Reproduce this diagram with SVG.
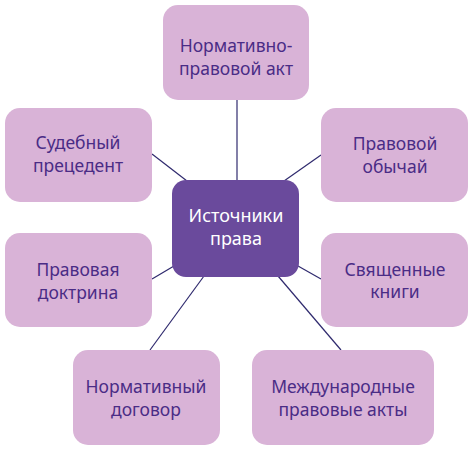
<svg xmlns="http://www.w3.org/2000/svg" width="474" height="451" viewBox="0 0 474 451">
<style>
.box{fill:#d9b3d7}
.t{font-family:"Noto Sans","DejaVu Sans",sans-serif;font-size:17.5px;fill:#4a2c86;text-anchor:middle}
.c{fill:#6a4a9c}
.ct{font-family:"Noto Sans","DejaVu Sans",sans-serif;font-size:18px;fill:#ffffff;text-anchor:middle}
.ln{stroke:#2f2a6e;stroke-width:1.2;fill:none}
</style>
<rect width="474" height="451" fill="#ffffff"/>
<g id="connectors">
<line class="ln" x1="237" y1="100" x2="237" y2="180"/>
<line class="ln" x1="152" y1="154" x2="187" y2="181"/>
<line class="ln" x1="284" y1="181" x2="321" y2="155"/>
<line class="ln" x1="152" y1="279" x2="174" y2="266"/>
<line class="ln" x1="298" y1="266" x2="321" y2="279"/>
<line class="ln" x1="204" y1="276" x2="150" y2="350"/>
<line class="ln" x1="278" y1="276" x2="341" y2="350"/>
</g>
<g id="center">
<rect class="c" x="172" y="180" width="127" height="97" rx="14"/>
<text class="ct" x="236" y="222">Источники</text>
<text class="ct" x="236" y="245">права</text>
</g>
<g id="n1">
<rect class="box" x="163" y="5" width="146" height="95" rx="15"/>
<text class="t" x="236" y="52">Нормативно-</text>
<text class="t" x="236" y="75">правовой акт</text>
</g>
<g id="n2">
<rect class="box" x="5" y="108" width="147" height="94" rx="15"/>
<text class="t" x="78" y="149">Судебный</text>
<text class="t" x="78" y="172">прецедент</text>
</g>
<g id="n3">
<rect class="box" x="321" y="108" width="147" height="94" rx="15"/>
<text class="t" x="395" y="150">Правовой</text>
<text class="t" x="395" y="173">обычай</text>
</g>
<g id="n4">
<rect class="box" x="5" y="233" width="147" height="94" rx="15"/>
<text class="t" x="78" y="276">Правовая</text>
<text class="t" x="78" y="299">доктрина</text>
</g>
<g id="n5">
<rect class="box" x="321" y="233" width="147" height="94" rx="15"/>
<text class="t" x="395" y="276">Священные</text>
<text class="t" x="395" y="298">книги</text>
</g>
<g id="n6">
<rect class="box" x="73" y="350" width="147" height="95" rx="15"/>
<text class="t" x="146" y="393">Нормативный</text>
<text class="t" x="146" y="416">договор</text>
</g>
<g id="n7">
<rect class="box" x="252" y="350" width="182" height="95" rx="15"/>
<text class="t" x="343" y="393">Международные</text>
<text class="t" x="343" y="416">правовые акты</text>
</g>
</svg>
